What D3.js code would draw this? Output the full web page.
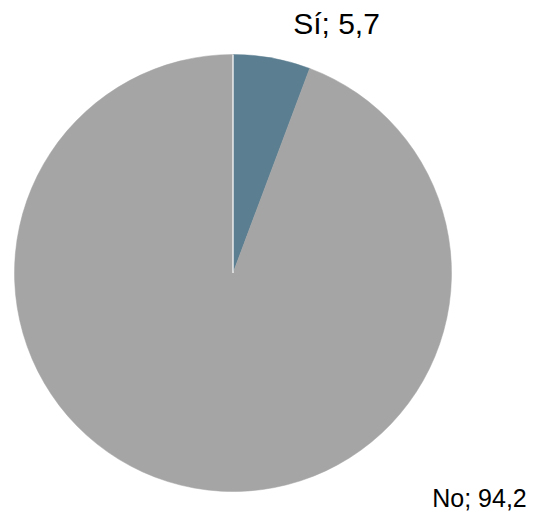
<!DOCTYPE html>
<html>
<head>
<meta charset="utf-8">
<script src="https://cdn.jsdelivr.net/npm/d3@7"></script>
<style>
html,body{margin:0;padding:0;background:#fff;}
svg{display:block;}
text{font-family:"Liberation Sans",Arial,sans-serif;fill:#000;}
</style>
</head>
<body>
<svg id="chart" width="534" height="512"></svg>
<script>
const categories = ["Sí", "No"];
const values = [5.7, 94.2];
const colors = ["#5b7e90", "#a5a5a5"];

const svg = d3.select("#chart");
const cx = 233, cy = 273, r = 218.5;
const g = svg.append("g").attr("transform", `translate(${cx},${cy})`);

const pie = d3.pie().sort(null).value(d => d.v);
const data = pie(categories.map((c, i) => ({c, v: values[i], col: colors[i]})));
const arc = d3.arc().innerRadius(0).outerRadius(r);

g.selectAll("path").data(data).enter().append("path")
  .attr("d", arc)
  .attr("fill", d => d.data.col)
  .attr("stroke", d => d.data.col)
  .attr("stroke-width", 0.5);

// white separator at the start angle
g.append("line")
  .attr("x1", 0).attr("y1", 0)
  .attr("x2", r * Math.sin(data[0].startAngle))
  .attr("y2", -r * Math.cos(data[0].startAngle))
  .attr("stroke", "#fff")
  .attr("stroke-width", 1.2);

const fmt = v => String(v).replace(".", ",");
const labelPos = [
  {x: 336.5, y: 34, size: 30},
  {x: 479.5, y: 507, size: 25}
];
svg.selectAll("text.lbl").data(data).enter().append("text")
  .attr("class", "lbl")
  .attr("x", (d, i) => labelPos[i].x)
  .attr("y", (d, i) => labelPos[i].y)
  .attr("text-anchor", "middle")
  .style("font-size", (d, i) => labelPos[i].size + "px")
  .text(d => `${d.data.c}; ${fmt(d.data.v)}`);
</script>
</body>
</html>
